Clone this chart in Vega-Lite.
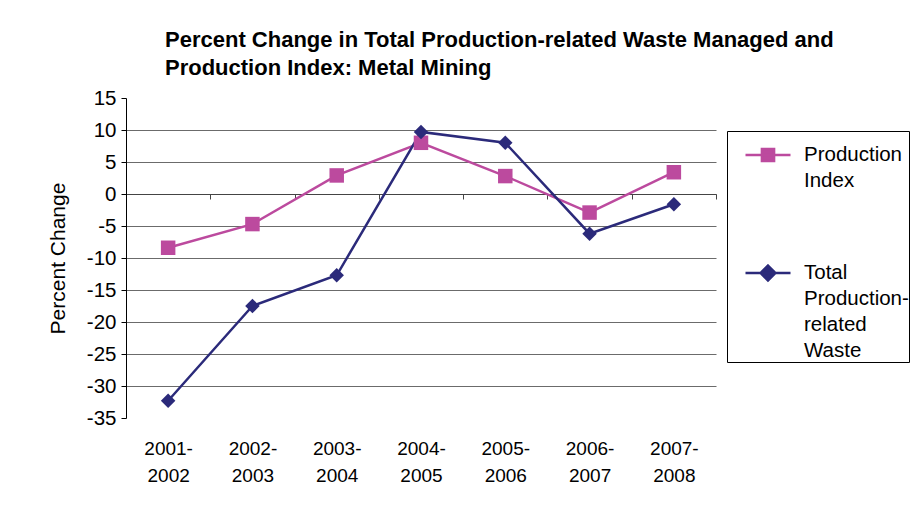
{
  "$schema": "https://vega.github.io/schema/vega-lite/v6.json",
  "width": 590,
  "height": 320,
  "autosize": "none",
  "padding": {"left": 126, "top": 98, "right": 201, "bottom": 93},
  "background": "white",
  "title": {
    "text": ["Percent Change in Total Production-related Waste Managed and", "Production Index: Metal Mining"],
    "anchor": "start",
    "frame": "group",
    "dx": 39,
    "offset": 8,
    "font": "Liberation Sans",
    "fontSize": 22,
    "fontWeight": "bold",
    "lineHeight": 28,
    "color": "black"
  },
  "data": {
    "values": [
      {"period": "2001-2002", "series": "Production Index", "value": -8.4},
      {"period": "2002-2003", "series": "Production Index", "value": -4.7},
      {"period": "2003-2004", "series": "Production Index", "value": 2.9},
      {"period": "2004-2005", "series": "Production Index", "value": 8.0},
      {"period": "2005-2006", "series": "Production Index", "value": 2.8},
      {"period": "2006-2007", "series": "Production Index", "value": -2.9},
      {"period": "2007-2008", "series": "Production Index", "value": 3.4},
      {"period": "2001-2002", "series": "Total Production-related Waste", "value": -32.3},
      {"period": "2002-2003", "series": "Total Production-related Waste", "value": -17.5},
      {"period": "2003-2004", "series": "Total Production-related Waste", "value": -12.7},
      {"period": "2004-2005", "series": "Total Production-related Waste", "value": 9.7},
      {"period": "2005-2006", "series": "Total Production-related Waste", "value": 8.0},
      {"period": "2006-2007", "series": "Total Production-related Waste", "value": -6.2},
      {"period": "2007-2008", "series": "Total Production-related Waste", "value": -1.6}
    ]
  },
  "encoding": {
    "x": {
      "field": "period",
      "type": "ordinal",
      "bandPosition": 0.5,
      "scale": {"type": "band", "paddingInner": 0, "paddingOuter": 0},
      "axis": {
        "title": null,
        "orient": "bottom",
        "offset": -224,
        "labelAngle": 0,
        "labelExpr": "datum.value ? [split(datum.value, '-')[0] + '-', split(datum.value, '-')[1]] : ''",
        "labelFont": "Liberation Sans",
        "labelFontSize": 19,
        "labelColor": "black",
        "labelLineHeight": 27,
        "labelPadding": 240,
        "ticks": true,
        "tickBand": "extent",
        "tickSize": 5,
        "tickColor": "#444444",
        "domain": true,
        "domainColor": "#444444",
        "grid": false
      }
    },
    "y": {
      "field": "value",
      "type": "quantitative",
      "scale": {"domain": [-35, 15], "nice": false, "zero": false},
      "axis": {
        "title": "Percent Change",
        "titleFont": "Liberation Sans",
        "titleFontSize": 21,
        "titleFontWeight": "normal",
        "titleColor": "black",
        "titlePadding": 18,
        "values": [-35, -30, -25, -20, -15, -10, -5, 0, 5, 10, 15],
        "labelExpr": "datum.value < 0 ? '-' + abs(datum.value) : '' + datum.value",
        "labelFont": "Liberation Sans",
        "labelFontSize": 20.5,
        "labelColor": "black",
        "labelPadding": 5,
        "tickSize": 5,
        "tickColor": "black",
        "domainColor": "black",
        "grid": true,
        "gridColor": "#6b6b6b",
        "gridWidth": 1,
        "gridOpacity": {"condition": {"test": "datum.value == 15 || datum.value == -35", "value": 0}, "value": 1}
      }
    },
    "color": {
      "field": "series",
      "type": "nominal",
      "scale": {"domain": ["Production Index", "Total Production-related Waste"], "range": ["#BC4A9E", "#2B2A7A"]},
      "legend": {
        "title": null,
        "orient": "none",
        "legendX": 601,
        "legendY": 33,
        "strokeColor": "black",
        "fillColor": "white",
        "padding": 0,
        "rowPadding": 57,
        "labelFont": "Liberation Sans",
        "labelFontSize": 20.5,
        "labelColor": "black",
        "labelLimit": 200,
        "labelExpr": "datum.value == 'Production Index' ? ['Production', 'Index'] : ['Total', 'Production-', 'related', 'Waste']",
        "symbolSize": 196,
        "symbolOffset": 17,
        "labelOffset": 12,
        "symbolStrokeWidth": 2.5,
        "encode": {
          "symbols": {
            "update": {
              "shape": {"signal": "datum.value == 'Production Index' ? 'M-1,0H1M-0.27,-0.27H0.27V0.27H-0.27Z' : 'M-1,0H1M0,-0.33L0.33,0L0,0.33L-0.33,0Z'"},
              "size": {"value": 2025},
              "strokeWidth": {"value": 2.5},
              "stroke": {"signal": "datum.value == 'Production Index' ? '#BC4A9E' : '#2B2A7A'"},
              "fill": {"signal": "datum.value == 'Production Index' ? '#BC4A9E' : '#2B2A7A'"},
              "opacity": {"value": 1}
            }
          },
          "labels": {"update": {"lineHeight": {"value": 26}}}
        }
      }
    }
  },
  "layer": [
    {"mark": {"type": "line", "strokeWidth": 2.5}},
    {
      "transform": [{"filter": "datum.series == 'Production Index'"}],
      "mark": {"type": "point", "shape": "square", "filled": true, "size": 210, "opacity": 1}
    },
    {
      "transform": [{"filter": "datum.series != 'Production Index'"}],
      "mark": {"type": "point", "shape": "diamond", "filled": true, "size": 210, "opacity": 1}
    }
  ],
  "config": {"view": {"stroke": null}}
}
